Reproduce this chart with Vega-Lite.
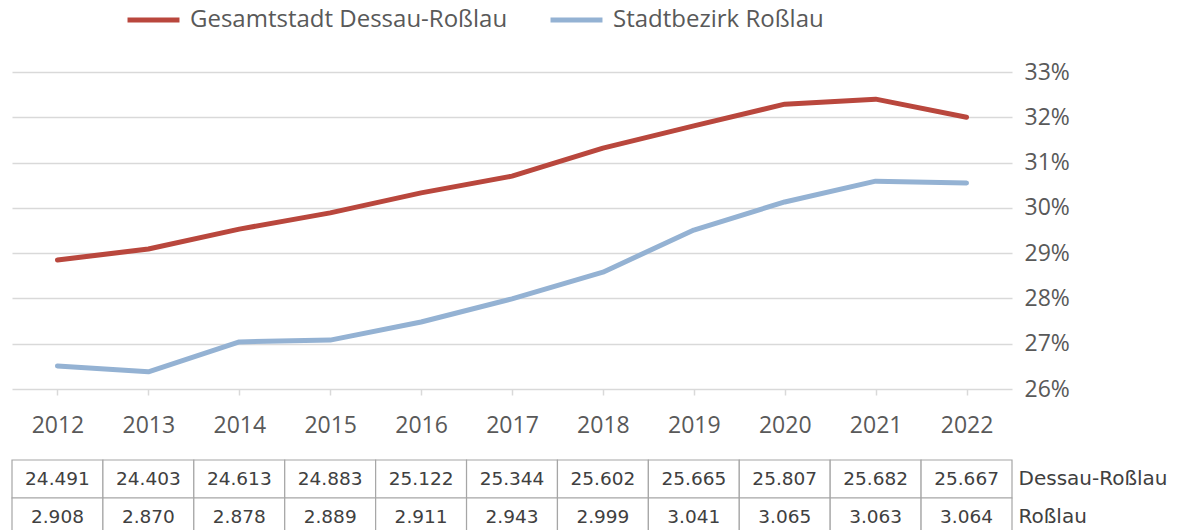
{
  "$schema": "https://vega.github.io/schema/vega-lite/v6.json",
  "background": "white",
  "padding": {"left": 11, "top": 5, "right": 0, "bottom": 0},
  "config": {
    "view": {"stroke": null},
    "font": "Open Sans",
    "concat": {"spacing": 22},
    "locale": {"number": {"decimal": ",", "thousands": ".", "grouping": [3], "currency": ["", " €"]}}
  },
  "datasets": {
    "lines": [
      {"year": "2012", "series": "Gesamtstadt Dessau-Roßlau", "share": 28.85},
      {"year": "2013", "series": "Gesamtstadt Dessau-Roßlau", "share": 29.09},
      {"year": "2014", "series": "Gesamtstadt Dessau-Roßlau", "share": 29.53},
      {"year": "2015", "series": "Gesamtstadt Dessau-Roßlau", "share": 29.89},
      {"year": "2016", "series": "Gesamtstadt Dessau-Roßlau", "share": 30.33},
      {"year": "2017", "series": "Gesamtstadt Dessau-Roßlau", "share": 30.70},
      {"year": "2018", "series": "Gesamtstadt Dessau-Roßlau", "share": 31.32},
      {"year": "2019", "series": "Gesamtstadt Dessau-Roßlau", "share": 31.81},
      {"year": "2020", "series": "Gesamtstadt Dessau-Roßlau", "share": 32.29},
      {"year": "2021", "series": "Gesamtstadt Dessau-Roßlau", "share": 32.40},
      {"year": "2022", "series": "Gesamtstadt Dessau-Roßlau", "share": 32.00},
      {"year": "2012", "series": "Stadtbezirk Roßlau", "share": 26.51},
      {"year": "2013", "series": "Stadtbezirk Roßlau", "share": 26.38},
      {"year": "2014", "series": "Stadtbezirk Roßlau", "share": 27.04},
      {"year": "2015", "series": "Stadtbezirk Roßlau", "share": 27.08},
      {"year": "2016", "series": "Stadtbezirk Roßlau", "share": 27.48},
      {"year": "2017", "series": "Stadtbezirk Roßlau", "share": 27.99},
      {"year": "2018", "series": "Stadtbezirk Roßlau", "share": 28.58},
      {"year": "2019", "series": "Stadtbezirk Roßlau", "share": 29.51},
      {"year": "2020", "series": "Stadtbezirk Roßlau", "share": 30.13},
      {"year": "2021", "series": "Stadtbezirk Roßlau", "share": 30.59},
      {"year": "2022", "series": "Stadtbezirk Roßlau", "share": 30.55}
    ],
    "table": [
      {"year": "2012", "row": "Dessau-Roßlau", "count": 24491},
      {"year": "2013", "row": "Dessau-Roßlau", "count": 24403},
      {"year": "2014", "row": "Dessau-Roßlau", "count": 24613},
      {"year": "2015", "row": "Dessau-Roßlau", "count": 24883},
      {"year": "2016", "row": "Dessau-Roßlau", "count": 25122},
      {"year": "2017", "row": "Dessau-Roßlau", "count": 25344},
      {"year": "2018", "row": "Dessau-Roßlau", "count": 25602},
      {"year": "2019", "row": "Dessau-Roßlau", "count": 25665},
      {"year": "2020", "row": "Dessau-Roßlau", "count": 25807},
      {"year": "2021", "row": "Dessau-Roßlau", "count": 25682},
      {"year": "2022", "row": "Dessau-Roßlau", "count": 25667},
      {"year": "2012", "row": "Roßlau", "count": 2908},
      {"year": "2013", "row": "Roßlau", "count": 2870},
      {"year": "2014", "row": "Roßlau", "count": 2878},
      {"year": "2015", "row": "Roßlau", "count": 2889},
      {"year": "2016", "row": "Roßlau", "count": 2911},
      {"year": "2017", "row": "Roßlau", "count": 2943},
      {"year": "2018", "row": "Roßlau", "count": 2999},
      {"year": "2019", "row": "Roßlau", "count": 3041},
      {"year": "2020", "row": "Roßlau", "count": 3065},
      {"year": "2021", "row": "Roßlau", "count": 3063},
      {"year": "2022", "row": "Roßlau", "count": 3064}
    ]
  },
  "vconcat": [
    {
      "width": 1000,
      "height": 317,
      "data": {"name": "lines"},
      "mark": {"type": "line", "strokeWidth": 5, "strokeCap": "round", "strokeJoin": "round"},
      "encoding": {
        "x": {
          "field": "year",
          "type": "ordinal",
          "scale": {"type": "point", "padding": 0.5},
          "axis": {
            "title": null,
            "domain": false,
            "ticks": true,
            "tickColor": "#d9d9d9",
            "tickWidth": 1.5,
            "tickSize": 6,
            "labelAngle": 0,
            "labelFont": "Open Sans",
            "labelFontSize": 23,
            "labelColor": "#595959",
            "labelPadding": 19
          }
        },
        "y": {
          "field": "share",
          "type": "quantitative",
          "scale": {"domain": [26, 33], "nice": false, "zero": false},
          "axis": {
            "orient": "right",
            "title": null,
            "values": [26, 27, 28, 29, 30, 31, 32, 33],
            "labelExpr": "datum.value + '%'",
            "domain": false,
            "ticks": false,
            "grid": true,
            "gridColor": "#d9d9d9",
            "gridWidth": 1.5,
            "labelFont": "Open Sans",
            "labelFontSize": 23,
            "labelColor": "#595959",
            "labelPadding": 12
          }
        },
        "color": {
          "field": "series",
          "type": "nominal",
          "scale": {
            "domain": ["Gesamtstadt Dessau-Roßlau", "Stadtbezirk Roßlau"],
            "range": ["#b9473d", "#94b2d3"]
          },
          "legend": {
            "orient": "none",
            "legendX": 113,
            "legendY": -67,
            "direction": "horizontal",
            "title": null,
            "symbolType": "stroke",
            "symbolStrokeWidth": 5,
            "symbolSize": 2700,
            "clipHeight": 30,
            "labelFont": "Open Sans",
            "labelFontSize": 24,
            "labelColor": "#595959",
            "labelOffset": 8,
            "columnPadding": 40,
            "labelLimit": 400
          }
        }
      }
    },
    {
      "width": 1000,
      "height": 76,
      "data": {"name": "table"},
      "encoding": {
        "x": {
          "field": "year",
          "type": "ordinal",
          "scale": {"paddingInner": 0, "paddingOuter": 0},
          "axis": null
        },
        "y": {
          "field": "row",
          "type": "nominal",
          "sort": ["Dessau-Roßlau", "Roßlau"],
          "scale": {"paddingInner": 0, "paddingOuter": 0},
          "axis": {
            "orient": "right",
            "title": null,
            "domain": false,
            "ticks": false,
            "labelFont": "DejaVu Sans",
            "labelFontSize": 20,
            "labelColor": "#404040",
            "labelPadding": 6
          }
        }
      },
      "layer": [
        {"mark": {"type": "rect", "fill": "white", "stroke": "#a6a6a6", "strokeWidth": 1.2}},
        {
          "mark": {"type": "text", "font": "DejaVu Sans", "fontSize": 18.5, "color": "#404040"},
          "encoding": {"text": {"field": "count", "type": "quantitative", "format": ",d"}}
        }
      ]
    }
  ]
}
